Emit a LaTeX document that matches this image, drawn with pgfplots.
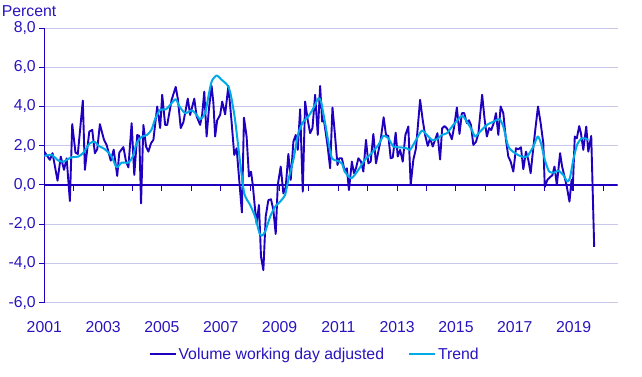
\documentclass[border=0pt]{standalone}
\usepackage{fontspec}
\setmainfont{Liberation Sans}
\usepackage{pgfplots}
\pgfplotsset{compat=1.18}
\definecolor{volc}{RGB}{30,0,190}
\definecolor{trendc}{RGB}{0,170,228}
\definecolor{gridc}{RGB}{200,200,236}
\definecolor{txtc}{RGB}{40,20,190}
\begin{document}
\begin{tikzpicture}[font=\fontsize{15.8bp}{19bp}\selectfont]
\useasboundingbox (-44.3bp,-74.3bp) rectangle (597.7bp,302.7bp);
\begin{axis}[
  at={(0,0)}, anchor=south west,
  scale only axis, width=573.4bp, height=274.7bp,
  xmin=1, xmax=20.5, ymin=-6, ymax=8,
  axis lines*=left,
  x axis line style={draw=none},
  y axis line style={volc, line width=1.2bp},
  ytick={-6,-4,...,8},
  xtick={1,3,...,19},
  xticklabels={2001,2003,2005,2007,2009,2011,2013,2015,2017,2019},
  xtick style={draw=none},
  ytick style={volc, line width=1bp},
  tick align=outside, major tick length=5bp,
  ymajorgrids, grid style={gridc, line width=0.8bp},
  tick label style={text=txtc, font=\fontsize{15.8bp}{19bp}\selectfont},
  xticklabel style={yshift=-10.5bp},
  yticklabel style={/pgf/number format/.cd, fixed, fixed zerofill, precision=1, use comma, assume math mode=true},
  legend style={at={(0.4716,-0.188)}, anchor=center, draw=none, fill=none,
    font=\fontsize{15.8bp}{19bp}\selectfont, text=txtc,
    /tikz/every even column/.append style={column sep=22bp}},
  legend columns=2,
  legend image code/.code={\draw[#1] (0bp,0bp) -- (26bp,0bp);},
]
\draw[volc, line width=1.2bp] (axis cs:1,0) -- (axis cs:20.5,0);
\pgfplotsinvokeforeach{2,3,...,20}{\draw[volc, line width=1bp] (axis cs:#1,0) -- (axis cs:#1,-0.33);}
\addplot[volc, line width=1.9bp, line join=round, no markers] coordinates {
(1.00,1.70) (1.19,1.28) (1.28,1.62) (1.45,0.22) (1.56,1.45) (1.67,0.77)
(1.76,1.36) (1.87,-0.82) (1.95,3.10) (2.06,1.65) (2.14,1.58) (2.31,4.30)
(2.38,0.77) (2.53,2.72) (2.63,2.81) (2.72,1.62) (2.80,1.82) (2.89,3.10)
(3.03,2.30) (3.12,2.04) (3.26,1.24) (3.36,1.80) (3.48,0.46) (3.55,1.65)
(3.69,1.93) (3.78,1.19) (3.86,0.90) (3.97,3.15) (4.06,0.51) (4.16,2.55)
(4.23,2.50) (4.29,-0.94) (4.37,3.06) (4.46,1.96) (4.54,1.70) (4.63,2.13)
(4.71,2.30) (4.84,4.00) (4.94,2.90) (5.01,4.60) (5.11,3.06) (5.18,3.06)
(5.33,4.34) (5.47,5.00) (5.54,4.40) (5.64,2.90) (5.73,3.20) (5.88,4.40)
(5.96,3.57) (6.10,4.40) (6.18,3.50) (6.30,3.06) (6.37,3.60) (6.44,4.76)
(6.52,2.47) (6.60,3.90) (6.69,5.05) (6.75,4.20) (6.81,2.47) (6.88,3.30)
(6.98,3.57) (7.05,4.25) (7.15,3.60) (7.26,5.05) (7.37,3.20) (7.46,1.53)
(7.54,1.87) (7.72,-1.40) (7.79,3.43) (7.88,2.47) (7.96,0.43) (8.03,0.68)
(8.09,0.00) (8.17,-1.28) (8.22,-1.96) (8.30,-1.02) (8.37,-3.66) (8.45,-4.34)
(8.53,-1.60) (8.62,-0.77) (8.71,-0.73) (8.79,-1.28) (8.87,-2.50) (8.94,0.00)
(9.04,0.94) (9.13,-0.43) (9.21,-0.10) (9.30,1.58) (9.38,0.26) (9.47,2.20)
(9.55,2.55) (9.62,1.79) (9.70,3.86) (9.79,-0.34) (9.87,4.25) (9.96,3.30)
(10.04,2.64) (10.12,2.90) (10.21,4.60) (10.30,2.55) (10.38,5.05) (10.45,3.23)
(10.51,3.30) (10.63,2.04) (10.72,0.85) (10.80,3.95) (10.89,2.47) (10.97,1.02)
(11.03,1.36) (11.12,1.36) (11.22,0.68) (11.29,0.85) (11.36,-0.26) (11.46,1.19)
(11.53,0.60) (11.60,0.85) (11.68,1.36) (11.77,1.19) (11.85,0.68) (11.94,2.30)
(12.02,1.10) (12.10,1.19) (12.19,2.60) (12.28,1.10) (12.36,1.70) (12.44,2.30)
(12.54,3.45) (12.62,2.55) (12.70,2.50) (12.78,1.36) (12.85,1.40) (12.95,2.67)
(13.02,1.45) (13.10,1.79) (13.19,1.19) (13.28,2.55) (13.38,2.98) (13.46,0.00)
(13.55,1.28) (13.64,1.87) (13.78,4.34) (13.87,3.30) (13.95,2.55) (14.04,1.99)
(14.12,2.38) (14.21,1.96) (14.29,2.30) (14.37,2.64) (14.46,1.30) (14.53,2.89)
(14.61,3.00) (14.69,2.89) (14.78,2.64) (14.86,2.33) (14.94,2.98) (15.03,3.95)
(15.12,2.60) (15.20,3.66) (15.28,3.66) (15.37,3.15) (15.44,3.30) (15.51,3.06)
(15.59,2.04) (15.68,2.20) (15.76,2.60) (15.89,4.60) (15.97,3.40) (16.05,2.47)
(16.13,2.90) (16.20,2.80) (16.30,3.23) (16.36,3.66) (16.44,2.55) (16.52,4.00)
(16.61,3.66) (16.70,2.30) (16.78,1.45) (16.86,1.19) (16.95,0.68) (17.04,1.87)
(17.12,1.82) (17.21,1.92) (17.29,0.80) (17.38,1.70) (17.46,1.28) (17.54,0.60)
(17.63,1.90) (17.71,2.98) (17.79,4.00) (17.88,3.15) (17.97,2.13) (18.02,-0.10)
(18.11,0.26) (18.20,0.40) (18.28,0.50) (18.35,0.94) (18.43,0.00) (18.54,1.62)
(18.61,0.94) (18.69,0.43) (18.77,-0.09) (18.86,-0.85) (18.93,0.26) (18.97,-0.26)
(19.04,2.47) (19.11,2.38) (19.19,3.00) (19.25,2.64) (19.33,1.79) (19.43,2.98)
(19.50,1.70) (19.60,2.50) (19.70,-3.15)
};
\addlegendentry{Volume working day adjusted}
\addplot[trendc, line width=2bp, line join=round, no markers, smooth, tension=0.4] coordinates {
(1.00,1.48) (1.25,1.53) (1.48,1.24) (1.65,1.19) (1.76,1.28) (1.93,1.41)
(2.16,1.45) (2.33,1.65) (2.55,2.13) (2.72,2.20) (2.84,2.00) (3.06,1.82)
(3.29,1.45) (3.46,0.90) (3.63,1.14) (3.86,1.14) (4.01,1.45) (4.14,2.13)
(4.31,2.45) (4.49,2.55) (4.64,2.80) (4.78,3.40) (4.94,3.83) (5.14,3.86)
(5.33,4.17) (5.47,4.37) (5.60,4.00) (5.79,3.66) (6.02,3.80) (6.18,3.57)
(6.30,3.35) (6.47,3.66) (6.58,4.50) (6.69,5.27) (6.86,5.58) (7.03,5.36)
(7.22,5.10) (7.33,4.68) (7.48,3.40) (7.65,1.28) (7.80,-0.43) (8.00,-1.02)
(8.17,-1.62) (8.32,-2.47) (8.40,-2.58) (8.51,-2.38) (8.68,-1.62) (8.85,-1.10)
(9.02,-0.85) (9.19,-0.50) (9.30,0.26) (9.47,1.28) (9.64,2.64) (9.81,3.23)
(9.98,3.49) (10.15,3.91) (10.32,4.42) (10.41,4.25) (10.55,3.15) (10.66,2.20)
(10.78,1.36) (10.95,1.24) (11.12,1.10) (11.22,0.68) (11.44,0.34) (11.68,0.77)
(11.90,1.28) (12.13,1.62) (12.36,2.04) (12.53,2.50) (12.70,2.38) (12.87,1.96)
(13.10,1.92) (13.32,1.87) (13.44,1.79) (13.61,2.21) (13.84,2.77) (14.01,2.55)
(14.18,2.30) (14.35,2.33) (14.52,2.55) (14.69,2.64) (14.91,3.06) (15.20,3.52)
(15.37,3.23) (15.54,2.80) (15.65,2.47) (15.82,2.72) (16.05,3.06) (16.28,3.23)
(16.48,3.35) (16.61,2.98) (16.78,1.96) (17.01,1.62) (17.23,1.45) (17.42,1.45)
(17.63,1.96) (17.78,2.47) (17.89,2.13) (18.03,1.24) (18.17,0.68) (18.34,0.63)
(18.48,0.73) (18.65,0.51) (18.79,0.17) (18.88,0.39) (19.00,1.36) (19.13,2.09)
(19.28,2.38) (19.39,2.38) (19.50,2.30)
};
\addlegendentry{Trend}
\end{axis}
\node[anchor=base west, inner sep=0pt, text=txtc] at ([xshift=-42.6bp, yshift=11.3bp]current axis.north west) {Percent};
\end{tikzpicture}
\end{document}
